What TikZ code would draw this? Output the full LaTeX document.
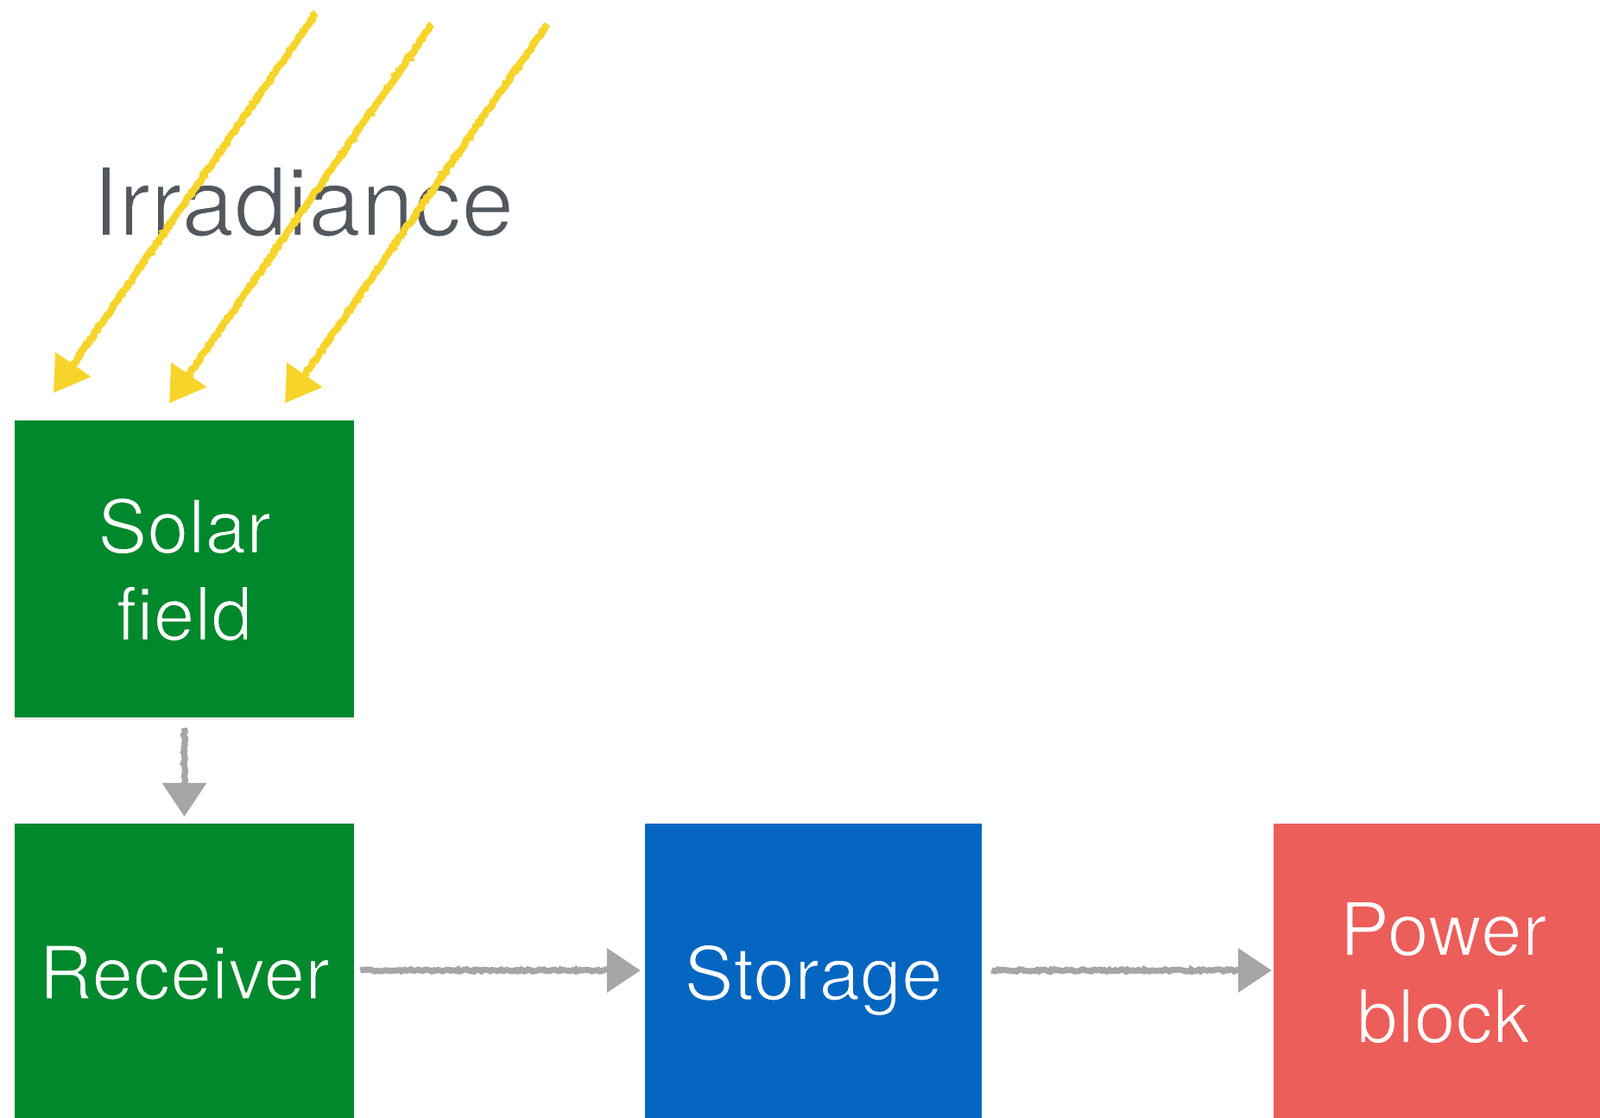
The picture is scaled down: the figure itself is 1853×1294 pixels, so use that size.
\documentclass[tikz,border=0pt]{standalone}
\usepackage{fontspec}
\setmainfont{TeX Gyre Heros}
\usetikzlibrary{arrows.meta,decorations.pathmorphing,shadows,calc}
\definecolor{sfgreen}{HTML}{00882D}
\definecolor{stblue}{HTML}{0466C1}
\definecolor{pbred}{HTML}{EC5E5A}
\definecolor{arrgray}{HTML}{A6A6A6}
\definecolor{sunyellow}{HTML}{F6D42A}
\definecolor{txtgray}{HTML}{53575E}
% thin the glyphs by stroking their outline in the background colour
\newcommand\thintext[3]{\special{pdf:literal direct 2 Tr 1 j #2 w #1 RG}#3\special{pdf:literal direct 0 Tr}}
\tikzset{
  blockbox/.style={rectangle, minimum width=393pt, minimum height=344pt, inner sep=0pt,
    text=white, align=center, text depth=0pt, font=\fontsize{86}{101}\selectfont,
    drop shadow={shadow xshift=0pt, shadow yshift=-3pt, opacity=0.15}},
  chalk/.style={decorate, decoration={random steps, segment length=2.5pt, amplitude=1.2pt}},
  grayline/.style={chalk, draw=arrgray, line width=7pt},
  graytip/.style={draw=arrgray, line width=7pt, -{Triangle[length=39pt,width=50pt]}},
  sunline/.style={chalk, draw=sunyellow, line width=8pt},
  suntip/.style={draw=sunyellow, line width=8pt, -{Triangle[length=40pt,width=48pt]}},
}
\begin{document}
\begin{tikzpicture}[x=1pt,y=-1pt]
\useasboundingbox (0,0) rectangle (1853,1294);
\clip (0,0) rectangle (1853,1294);
\fill[white] (0,0) rectangle (1853,1294);

\node[anchor=base, inner sep=0pt, text=txtgray, font=\fontsize{110}{130}\selectfont] (irr) at (351,273) {\thintext{1 1 1}{2.2}{Irradiance}};

\node[blockbox, fill=sfgreen] (solar) at (213.5,659) {\thintext{0 0.533 0.176}{2}{Solar\\field}};
\node[blockbox, fill=sfgreen] (recv) at (213.5,1126) {\thintext{0 0.533 0.176}{2}{Receiver}};
\node[blockbox, fill=stblue, minimum width=390pt] (stor) at (942,1126) {\thintext{0.016 0.4 0.757}{2}{Storage}};
\node[blockbox, fill=pbred] (power) at (1671.5,1126) {\thintext{0.925 0.369 0.353}{2}{Power\\block}};

% sun rays
\coordinate (t1) at (366,15);  \coordinate (h1) at (62,455);
\coordinate (t2) at (500,28);  \coordinate (h2) at (196,467);
\coordinate (t3) at (634,28);  \coordinate (h3) at (330,467);
\foreach \i in {1,2,3}{
  \draw[sunline] (t\i) -- ($(h\i)!30pt!(t\i)$);
  \draw[suntip] ($(h\i)!34pt!(t\i)$) -- (h\i);
}

% flow arrows
\coordinate (a1) at ($(solar.south)+(0,12)$);
\coordinate (a2) at ($(recv.north)+(0,-8)$);
\coordinate (b1) at ($(recv.east)+(7,-2)$);
\coordinate (b2) at ($(stor.west)+(-5,-2)$);
\coordinate (c1) at ($(stor.east)+(11,-2)$);
\coordinate (c2) at ($(power.west)+(-2,-2)$);
\foreach \s/\e in {a1/a2,b1/b2,c1/c2}{
  \draw[grayline] (\s) -- ($(\e)!30pt!(\s)$);
  \draw[graytip] ($(\e)!33pt!(\s)$) -- (\e);
}
\end{tikzpicture}
\end{document}
